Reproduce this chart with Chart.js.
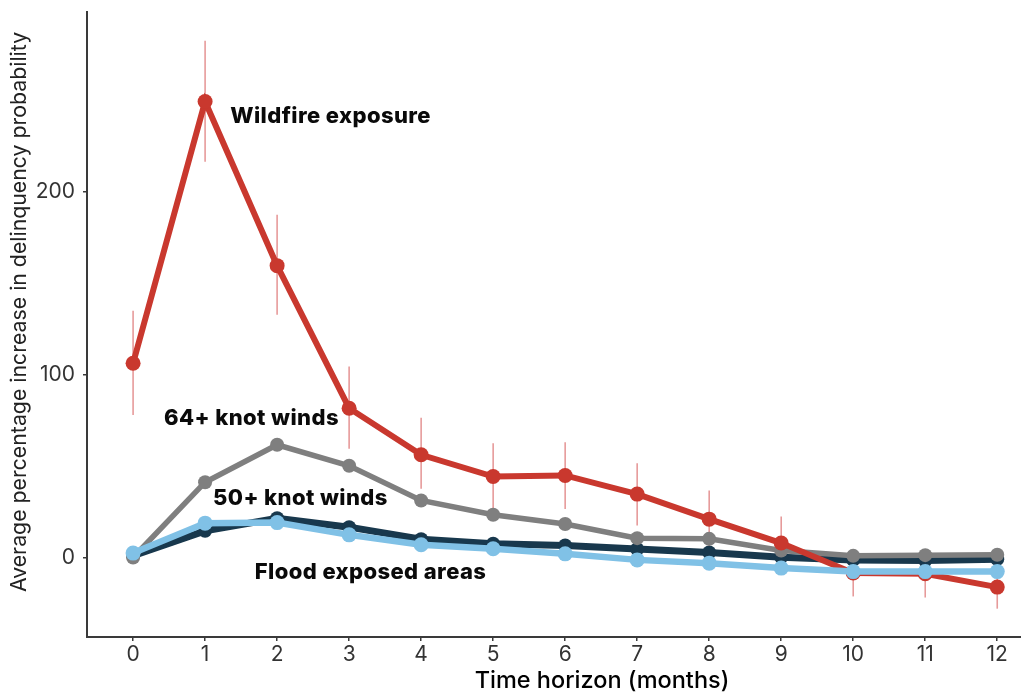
<!DOCTYPE html>
<html>
<head>
<meta charset="utf-8">
<script src="https://cdn.jsdelivr.net/npm/chart.js@4.4.1/dist/chart.umd.min.js"></script>
<style>
  html, body { margin: 0; padding: 0; background: #ffffff; }
  #wrap { width: 1021px; height: 694px; position: relative; }
</style>
</head>
<body>
<div id="wrap"><canvas id="chart"></canvas></div>
<script>
// Months after the event
const months = [0, 1, 2, 3, 4, 5, 6, 7, 8, 9, 10, 11, 12];
const yTicks = [0, 100, 200];

// Average percentage increase in delinquency probability
const wildfire = [106.3, 249.5, 159.7, 81.7, 56.2, 44.3, 44.9, 34.7, 21.0, 7.9, -8.5, -8.9, -16.2];
const wildfireLow = [78.0, 216.6, 132.8, 59.5, 37.6, 26.0, 26.5, 17.5, 5.5, -6.6, -21.3, -21.9, -28.0];
const wildfireHigh = [135.0, 282.8, 187.5, 104.5, 76.5, 62.5, 63.1, 51.6, 36.7, 22.4, 4.3, 4.0, -4.4];
const winds64 = [0.0, 41.2, 61.7, 50.2, 31.2, 23.4, 18.3, 10.6, 10.2, 3.8, 0.9, 1.3, 1.5];
const winds50 = [1.0, 14.6, 21.5, 16.6, 10.0, 7.5, 6.6, 4.6, 2.7, 0.2, -1.3, -1.6, -0.9];
const flood = [2.4, 18.8, 19.1, 12.4, 7.0, 4.8, 2.0, -1.3, -3.1, -5.8, -7.7, -7.7, -7.7];

// Series names written next to their lines: [text, x, y]
const seriesLabels = [
  ['Wildfire exposure', 1.35, 241.6],
  ['64+ knot winds', 0.43, 75.9],
  ['50+ knot winds', 1.11, 32.1],
  ['Flood exposed areas', 1.69, -8.4]
];

const RED = '#c9382e';
const GREY = '#7f7f7f';
const NAVY = '#18384d';
const SKY = '#80c1e6';
const AXIS = '#3a3a3a';

const toPoints = arr => months.map((m, i) => ({ x: m, y: arr[i] }));

// Confidence intervals for the wildfire series, drawn beneath the lines
const errorBars = {
  id: 'errorBars',
  beforeDatasetsDraw(chart) {
    const { ctx, scales: { x, y } } = chart;
    ctx.save();
    ctx.strokeStyle = 'rgba(222, 120, 120, 0.75)';
    ctx.lineWidth = 1.6;
    months.forEach((m, i) => {
      const px = x.getPixelForValue(m);
      ctx.beginPath();
      ctx.moveTo(px, y.getPixelForValue(wildfireLow[i]));
      ctx.lineTo(px, y.getPixelForValue(wildfireHigh[i]));
      ctx.stroke();
    });
    ctx.restore();
  }
};

// Inline series names and the two axis titles
const annotations = {
  id: 'annotations',
  afterDatasetsDraw(chart) {
    const { ctx, scales: { x, y } } = chart;
    ctx.save();
    ctx.fillStyle = '#0a0a0a';
    ctx.font = '800 22px Inter, "Liberation Sans", sans-serif';
    ctx.letterSpacing = '0.4px';
    ctx.textAlign = 'left';
    ctx.textBaseline = 'middle';
    seriesLabels.forEach(([text, vx, vy]) => {
      ctx.fillText(text, x.getPixelForValue(vx), y.getPixelForValue(vy));
    });
    ctx.letterSpacing = '0px';

    ctx.fillStyle = '#000000';
    ctx.font = '500 23.5px Inter, "Liberation Sans", sans-serif';
    ctx.textAlign = 'center';
    ctx.textBaseline = 'middle';
    ctx.fillText('Time horizon (months)', 602, 681);

    ctx.translate(20, 312);
    ctx.rotate(-Math.PI / 2);
    ctx.fillStyle = '#222222';
    ctx.font = '400 21.3px Inter, "Liberation Sans", sans-serif';
    ctx.fillText('Average percentage increase in delinquency probability', 0, 0);
    ctx.restore();
  }
};

const lineStyle = (label, data, color, width, radius, order) => ({
  label,
  data: toPoints(data),
  borderColor: color,
  backgroundColor: color,
  pointBackgroundColor: color,
  pointBorderColor: color,
  borderWidth: width,
  pointRadius: radius,
  pointHoverRadius: radius,
  pointBorderWidth: 0,
  tension: 0,
  clip: false,
  order
});

const noPad = s => { s.paddingLeft = 0; s.paddingRight = 0; s.paddingTop = 0; s.paddingBottom = 0; };

new Chart(document.getElementById('chart'), {
  type: 'line',
  data: {
    datasets: [
      lineStyle('Flood exposed areas', flood, SKY, 6.5, 7.5, 1),
      lineStyle('Wildfire exposure', wildfire, RED, 6, 7.5, 2),
      lineStyle('64+ knot winds', winds64, GREY, 5.5, 7, 3),
      lineStyle('50+ knot winds', winds50, NAVY, 7, 7, 4)
    ]
  },
  options: {
    responsive: true,
    maintainAspectRatio: false,
    animation: false,
    layout: { autoPadding: false, padding: { top: 12, right: 0, left: 0, bottom: 0 } },
    plugins: {
      legend: { display: false },
      tooltip: { enabled: false }
    },
    scales: {
      x: {
        type: 'linear',
        min: -0.64,
        max: 12.33,
        afterBuildTicks: s => { s.ticks = months.map(v => ({ value: v })); },
        afterFit: s => { s.height = 57; noPad(s); },
        grid: { display: true, drawOnChartArea: false, drawTicks: true, tickLength: 4, color: AXIS, lineWidth: 1.5 },
        border: { display: true, color: AXIS, width: 2 },
        ticks: {
          color: '#333333',
          font: { family: 'Inter, "Liberation Sans", sans-serif', size: 21 },
          padding: 1,
          maxRotation: 0,
          autoSkip: false,
          callback: v => String(v)
        }
      },
      y: {
        type: 'linear',
        min: -43.5,
        max: 298.5,
        afterBuildTicks: s => { s.ticks = yTicks.map(v => ({ value: v })); },
        afterFit: s => { s.width = 87; noPad(s); },
        grid: { display: true, drawOnChartArea: false, drawTicks: true, tickLength: 4, color: AXIS, lineWidth: 1.5 },
        border: { display: true, color: AXIS, width: 2 },
        ticks: {
          color: '#333333',
          font: { family: 'Inter, "Liberation Sans", sans-serif', size: 21 },
          padding: 8,
          callback: v => String(v)
        }
      }
    }
  },
  plugins: [errorBars, annotations]
});
</script>
</body>
</html>
